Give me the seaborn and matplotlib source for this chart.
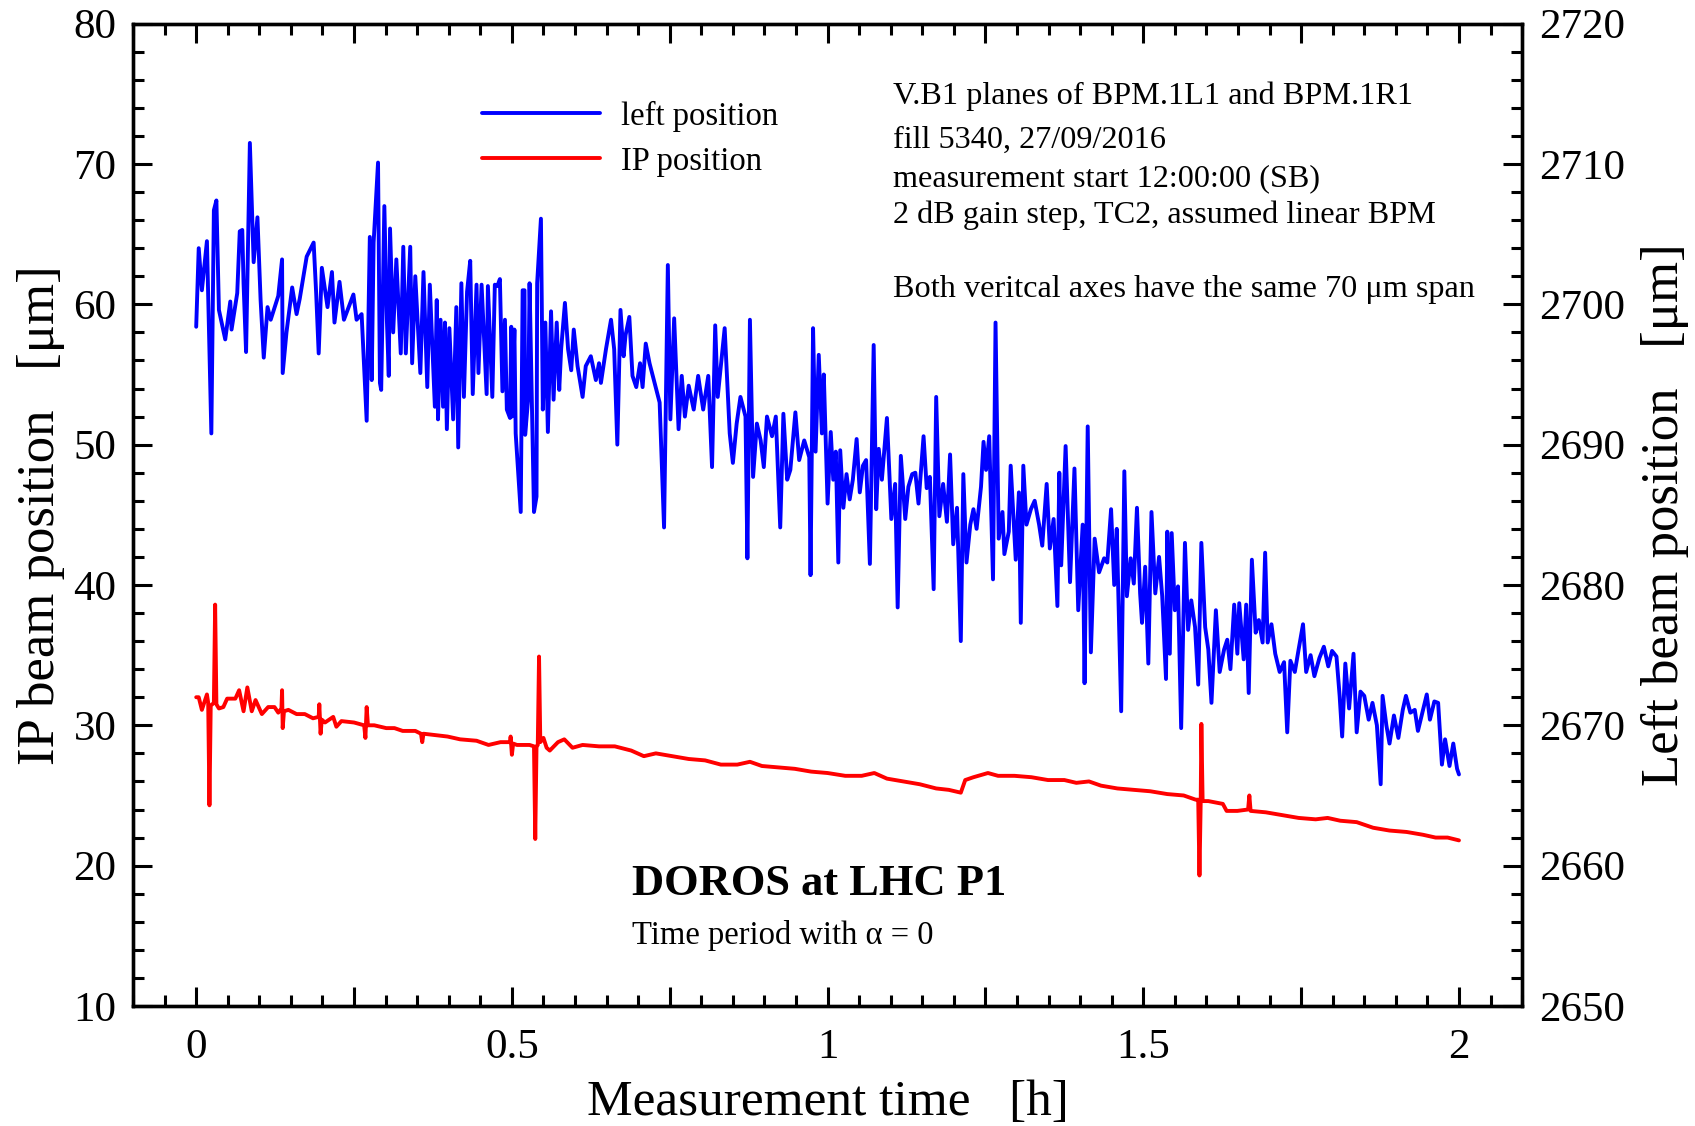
import numpy as np
import seaborn as sns
import matplotlib.pyplot as plt
from matplotlib.ticker import MultipleLocator, FuncFormatter

# left BPM position (right axis, um) vs time [h]
blue_time = [
    0.000, 0.004, 0.009, 0.017, 0.024, 0.028, 0.032, 0.036, 0.046, 0.054, 0.056, 0.065, 0.069, 0.073,
    0.075, 0.079, 0.085, 0.091, 0.097, 0.102, 0.107, 0.113, 0.118, 0.130, 0.136, 0.137, 0.143, 0.152,
    0.159, 0.164, 0.175, 0.186, 0.190, 0.194, 0.199, 0.208, 0.215, 0.219, 0.227, 0.234, 0.249, 0.254,
    0.262, 0.269, 0.270, 0.275, 0.278, 0.281, 0.288, 0.291, 0.293, 0.298, 0.302, 0.305, 0.307, 0.312,
    0.317, 0.324, 0.328, 0.332, 0.339, 0.342, 0.347, 0.355, 0.360, 0.366, 0.370, 0.378, 0.381, 0.383,
    0.387, 0.391, 0.394, 0.397, 0.401, 0.407, 0.412, 0.415, 0.420, 0.424, 0.429, 0.434, 0.438, 0.444,
    0.447, 0.452, 0.460, 0.462, 0.469, 0.473, 0.477, 0.481, 0.485, 0.489, 0.492, 0.497, 0.499, 0.500,
    0.504, 0.506, 0.514, 0.517, 0.520, 0.521, 0.526, 0.528, 0.535, 0.539, 0.540, 0.546, 0.549, 0.553,
    0.557, 0.562, 0.566, 0.571, 0.575, 0.578, 0.584, 0.589, 0.594, 0.598, 0.604, 0.612, 0.617, 0.625,
    0.633, 0.638, 0.641, 0.649, 0.657, 0.662, 0.667, 0.672, 0.677, 0.680, 0.686, 0.691, 0.697, 0.703,
    0.707, 0.712, 0.718, 0.726, 0.734, 0.741, 0.747, 0.751, 0.757, 0.764, 0.769, 0.774, 0.780, 0.788,
    0.795, 0.803, 0.811, 0.817, 0.822, 0.826, 0.831, 0.837, 0.845, 0.850, 0.856, 0.862, 0.870, 0.873,
    0.877, 0.882, 0.888, 0.894, 0.899, 0.904, 0.912, 0.918, 0.925, 0.930, 0.936, 0.941, 0.949, 0.955,
    0.963, 0.971, 0.973, 0.977, 0.981, 0.986, 0.991, 0.994, 1.000, 1.005, 1.009, 1.013, 1.017, 1.020,
    1.025, 1.030, 1.035, 1.040, 1.046, 1.051, 1.056, 1.061, 1.067, 1.073, 1.077, 1.081, 1.086, 1.094,
    1.101, 1.107, 1.111, 1.116, 1.123, 1.128, 1.134, 1.139, 1.144, 1.152, 1.157, 1.162, 1.168, 1.172,
    1.177, 1.183, 1.189, 1.194, 1.199, 1.205, 1.211, 1.215, 1.220, 1.226, 1.231, 1.236, 1.243, 1.247,
    1.251, 1.256, 1.262, 1.266, 1.271, 1.277, 1.280, 1.287, 1.290, 1.298, 1.303, 1.306, 1.310, 1.315,
    1.322, 1.328, 1.335, 1.340, 1.347, 1.352, 1.358, 1.364, 1.367, 1.370, 1.377, 1.384, 1.391, 1.397,
    1.404, 1.407, 1.412, 1.417, 1.423, 1.430, 1.438, 1.443, 1.449, 1.454, 1.458, 1.465, 1.470, 1.474,
    1.480, 1.485, 1.490, 1.495, 1.498, 1.503, 1.508, 1.513, 1.519, 1.525, 1.530, 1.536, 1.538, 1.542,
    1.545, 1.550, 1.555, 1.560, 1.566, 1.571, 1.576, 1.582, 1.587, 1.592, 1.598, 1.603, 1.608, 1.615,
    1.621, 1.628, 1.633, 1.638, 1.644, 1.649, 1.652, 1.659, 1.663, 1.667, 1.672, 1.678, 1.683, 1.689,
    1.693, 1.697, 1.703, 1.709, 1.716, 1.723, 1.728, 1.733, 1.740, 1.746, 1.753, 1.758, 1.765, 1.771,
    1.779, 1.786, 1.793, 1.799, 1.806, 1.811, 1.815, 1.820, 1.826, 1.833, 1.838, 1.844, 1.850, 1.857,
    1.863, 1.870, 1.876, 1.879, 1.885, 1.890, 1.897, 1.904, 1.911, 1.916, 1.923, 1.930, 1.935, 1.942,
    1.949, 1.954, 1.961, 1.967, 1.973, 1.978, 1.985, 1.991, 1.997, 2.000,
]
left_pos = [
    2698.4, 2704.0, 2701.0, 2704.5, 2690.8, 2706.7, 2707.4, 2699.6, 2697.5, 2700.2, 2698.2, 2700.8, 2705.2, 2705.3,
    2701.5, 2696.6, 2711.5, 2703.0, 2706.2, 2700.3, 2696.2, 2699.8, 2698.9, 2700.6, 2703.2, 2695.1, 2698.0, 2701.2,
    2699.3, 2700.4, 2703.4, 2704.4, 2700.8, 2696.5, 2702.6, 2699.8, 2702.3, 2698.7, 2701.6, 2698.9, 2700.7, 2698.9,
    2699.3, 2692.7, 2691.7, 2704.8, 2694.6, 2704.4, 2710.1, 2694.4, 2693.9, 2707.0, 2698.9, 2694.9, 2705.4, 2698.0,
    2703.2, 2696.5, 2704.1, 2696.5, 2704.1, 2695.8, 2702.0, 2695.1, 2702.3, 2694.1, 2701.4, 2692.7, 2700.3, 2691.8,
    2698.9, 2692.7, 2698.7, 2691.1, 2698.3, 2691.8, 2699.8, 2689.8, 2701.5, 2693.4, 2700.9, 2703.1, 2693.6, 2701.4,
    2695.1, 2701.4, 2693.6, 2701.3, 2693.4, 2701.4, 2701.3, 2701.8, 2693.8, 2698.9, 2692.5, 2691.9, 2698.4, 2692.0,
    2698.2, 2690.8, 2685.2, 2701.0, 2701.0, 2690.7, 2693.4, 2701.5, 2685.2, 2686.3, 2701.5, 2706.1, 2692.5, 2698.7,
    2690.9, 2699.5, 2693.2, 2698.7, 2693.9, 2696.8, 2700.1, 2696.8, 2695.3, 2698.2, 2695.6, 2693.4, 2695.6, 2696.3,
    2694.6, 2695.8, 2694.4, 2696.8, 2698.9, 2696.8, 2690.0, 2699.6, 2696.3, 2697.8, 2699.1, 2694.9, 2694.1, 2695.8,
    2694.1, 2697.2, 2695.8, 2694.4, 2693.0, 2684.1, 2702.8, 2691.8, 2699.0, 2691.1, 2694.9, 2692.0, 2694.2, 2692.5,
    2694.9, 2692.5, 2694.9, 2688.4, 2698.5, 2693.4, 2695.6, 2698.3, 2690.8, 2688.7, 2691.5, 2693.4, 2692.0, 2681.9,
    2698.9, 2687.7, 2691.5, 2690.3, 2688.4, 2692.0, 2690.6, 2692.0, 2684.1, 2692.2, 2687.5, 2688.2, 2692.3, 2688.9,
    2690.3, 2689.1, 2680.7, 2698.3, 2689.5, 2696.4, 2690.8, 2695.0, 2685.8, 2690.9, 2687.5, 2689.5, 2681.6, 2689.6,
    2685.5, 2687.9, 2686.1, 2687.5, 2690.4, 2686.6, 2688.5, 2688.9, 2681.5, 2697.1, 2685.4, 2689.7, 2687.5, 2691.9,
    2684.7, 2687.2, 2678.4, 2689.2, 2684.7, 2687.0, 2687.9, 2688.0, 2685.8, 2690.6, 2686.9, 2687.7, 2679.7, 2693.4,
    2684.9, 2687.2, 2684.5, 2689.3, 2682.9, 2685.5, 2676.0, 2687.9, 2681.6, 2684.3, 2685.4, 2684.0, 2687.0, 2690.2,
    2688.2, 2690.6, 2680.4, 2698.7, 2683.3, 2685.2, 2682.2, 2683.8, 2688.5, 2681.8, 2686.6, 2677.3, 2688.5, 2684.3,
    2685.4, 2686.0, 2684.3, 2682.8, 2687.2, 2682.6, 2684.7, 2678.5, 2688.0, 2681.4, 2689.9, 2680.2, 2688.3, 2678.2,
    2684.3, 2673.0, 2691.3, 2675.2, 2683.3, 2680.9, 2681.9, 2681.6, 2685.4, 2680.0, 2684.0, 2671.0, 2688.1, 2679.2,
    2681.9, 2680.1, 2685.5, 2679.4, 2677.3, 2681.3, 2674.4, 2685.2, 2679.4, 2682.0, 2679.2, 2673.3, 2683.8, 2675.1,
    2683.7, 2678.2, 2679.9, 2669.8, 2683.0, 2676.8, 2678.9, 2677.0, 2672.9, 2683.0, 2677.0, 2675.4, 2671.6, 2678.2,
    2673.8, 2675.4, 2676.1, 2674.0, 2678.6, 2675.1, 2678.7, 2674.7, 2678.6, 2672.3, 2681.8, 2676.6, 2677.5, 2675.9,
    2682.3, 2675.9, 2677.2, 2675.1, 2673.8, 2674.5, 2669.5, 2674.6, 2673.8, 2675.4, 2677.2, 2673.8, 2675.0, 2673.5,
    2674.8, 2675.6, 2674.2, 2675.3, 2674.9, 2672.1, 2669.2, 2674.4, 2671.2, 2675.1, 2669.5, 2672.4, 2672.1, 2670.4,
    2671.6, 2670.0, 2665.8, 2672.1, 2670.0, 2668.7, 2670.7, 2669.1, 2671.1, 2672.1, 2670.9, 2671.1, 2669.6, 2670.9,
    2672.2, 2670.4, 2671.7, 2671.6, 2667.2, 2669.0, 2667.1, 2668.7, 2666.9, 2666.5,
]

# IP position (left axis, um) vs time [h]
red_time = [
    0.000, 0.004, 0.009, 0.017, 0.019, 0.021, 0.023, 0.028, 0.030, 0.032, 0.036, 0.043, 0.049, 0.062,
    0.068, 0.075, 0.081, 0.088, 0.094, 0.104, 0.114, 0.124, 0.130, 0.135, 0.136, 0.137, 0.139, 0.146,
    0.159, 0.172, 0.185, 0.194, 0.195, 0.197, 0.199, 0.204, 0.217, 0.222, 0.230, 0.250, 0.266, 0.268,
    0.270, 0.272, 0.282, 0.301, 0.314, 0.327, 0.347, 0.356, 0.358, 0.360, 0.379, 0.398, 0.418, 0.444,
    0.463, 0.482, 0.497, 0.498, 0.500, 0.502, 0.508, 0.528, 0.535, 0.537, 0.539, 0.541, 0.543, 0.545,
    0.550, 0.555, 0.560, 0.573, 0.583, 0.596, 0.612, 0.638, 0.663, 0.689, 0.709, 0.728, 0.754, 0.780,
    0.806, 0.831, 0.857, 0.877, 0.896, 0.922, 0.948, 0.974, 1.000, 1.028, 1.054, 1.074, 1.094, 1.120,
    1.146, 1.172, 1.192, 1.211, 1.218, 1.231, 1.254, 1.270, 1.296, 1.323, 1.349, 1.375, 1.394, 1.414,
    1.433, 1.459, 1.485, 1.511, 1.538, 1.564, 1.583, 1.587, 1.589, 1.591, 1.592, 1.594, 1.603, 1.626,
    1.632, 1.649, 1.666, 1.668, 1.670, 1.694, 1.720, 1.746, 1.773, 1.792, 1.812, 1.838, 1.864, 1.890,
    1.917, 1.943, 1.963, 1.982, 2.000,
]
ip_pos = [
    32.0, 32.0, 31.1, 32.2, 31.6, 24.3, 31.4, 31.6, 38.6, 31.5, 31.2, 31.3, 31.9, 31.9,
    32.5, 31.0, 32.7, 31.0, 31.8, 30.8, 31.3, 31.3, 30.9, 31.2, 32.5, 29.8, 31.0, 31.1,
    30.8, 30.8, 30.5, 30.6, 31.5, 29.4, 30.4, 30.2, 30.6, 29.9, 30.3, 30.2, 30.0, 29.1,
    31.3, 30.0, 30.0, 29.8, 29.8, 29.6, 29.6, 29.4, 28.8, 29.4, 29.3, 29.2, 29.0, 28.9,
    28.6, 28.8, 28.8, 29.2, 27.9, 28.7, 28.6, 28.6, 28.5, 21.9, 28.5, 28.6, 34.9, 28.8,
    29.1, 28.4, 28.2, 28.8, 29.0, 28.4, 28.6, 28.5, 28.5, 28.2, 27.8, 28.0, 27.8, 27.6,
    27.5, 27.2, 27.2, 27.4, 27.1, 27.0, 26.9, 26.7, 26.6, 26.4, 26.4, 26.6, 26.2, 26.0,
    25.8, 25.5, 25.4, 25.2, 26.1, 26.3, 26.6, 26.4, 26.4, 26.3, 26.1, 26.1, 25.9, 26.0,
    25.7, 25.5, 25.4, 25.3, 25.1, 25.0, 24.7, 24.7, 19.3, 24.7, 30.1, 24.6, 24.6, 24.4,
    23.9, 23.9, 24.0, 25.0, 23.9, 23.8, 23.6, 23.4, 23.3, 23.4, 23.2, 23.1, 22.7, 22.5,
    22.4, 22.2, 22.0, 22.0, 21.8,
]

sns.set_style("ticks")
plt.rcParams['font.family'] = ['Liberation Serif', 'DejaVu Serif']
plt.rcParams.update({
    'text.color': 'black', 'axes.labelcolor': 'black', 'axes.edgecolor': 'black',
    'xtick.color': 'black', 'ytick.color': 'black',
})

fig, ax = plt.subplots(figsize=(16.95, 11.26), dpi=100)
fig.subplots_adjust(left=0.0785, right=0.898, top=0.979, bottom=0.1066)
ax2 = ax.twinx()

sns.lineplot(x=red_time, y=ip_pos, ax=ax, color="#ff0000", linewidth=2.8,
             estimator=None, sort=False, label="IP position")
sns.lineplot(x=blue_time, y=left_pos, ax=ax2, color="#0000ff", linewidth=2.8,
             estimator=None, sort=False, label="left position")
for a in (ax, ax2):
    if a.get_legend() is not None:
        a.get_legend().remove()

ax.set_xlim(-0.1, 2.1)
ax.set_ylim(10, 80)
ax2.set_ylim(2650, 2720)

# ticks
ax.xaxis.set_major_locator(MultipleLocator(0.25))
ax.xaxis.set_minor_locator(MultipleLocator(0.05))
ax.xaxis.set_major_formatter(FuncFormatter(
    lambda v, p: f"{v:g}" if abs(v * 2 - round(v * 2)) < 1e-6 else ""))
ax.yaxis.set_major_locator(MultipleLocator(10))
ax.yaxis.set_minor_locator(MultipleLocator(2))
ax2.yaxis.set_major_locator(MultipleLocator(10))
ax2.yaxis.set_minor_locator(MultipleLocator(2))

ax.tick_params(which='both', direction='in', top=True, right=False, width=2.2,
               labelsize=31, colors='black')
ax.tick_params(axis='x', which='both', pad=16)
ax.tick_params(axis='y', which='both', pad=12)
ax.tick_params(which='major', length=14)
ax.tick_params(which='minor', length=8)
ax2.tick_params(which='both', direction='in', width=2.2, labelsize=31, pad=12,
                colors='black')
ax2.tick_params(which='major', length=14)
ax2.tick_params(which='minor', length=8)

for a in (ax, ax2):
    for s in a.spines.values():
        s.set_linewidth(2.4)
        s.set_color('black')
        s.set_visible(True)

ax.set_xlabel("Measurement time   [h]", fontsize=37, labelpad=9)
ax.set_ylabel("IP beam position   [μm]", fontsize=38, labelpad=6)
ax2.set_ylabel("Left beam position   [μm]", fontsize=38, labelpad=12)

# legend
h2, l2 = ax2.get_legend_handles_labels()
h1, l1 = ax.get_legend_handles_labels()
ax2.legend(h2 + h1, l2 + l1, loc='upper left', bbox_to_anchor=(0.242, 0.935),
           frameon=False, fontsize=23.5, handlelength=3.6, handletextpad=0.65,
           labelspacing=0.45, borderaxespad=0)

# annotations
info = [
    ("V.B1 planes of BPM.1L1 and BPM.1R1", 0.9145),
    ("fill 5340, 27/09/2016", 0.8755),
    ("measurement start 12:00:00 (SB)", 0.8410),
    ("2 dB gain step, TC2, assumed linear BPM", 0.8090),
    ("Both veritcal axes have the same 70 μm span", 0.7425),
]
for txt, y in info:
    fig.text(0.527, y, txt, fontsize=23.2, va='center', ha='left')

fig.text(0.373, 0.2149, "DOROS at LHC P1", fontsize=32, fontweight='bold',
         va='center', ha='left')
fig.text(0.373, 0.1696, "Time period with α = 0", fontsize=23.5, va='center', ha='left')

plt.savefig("out.png", dpi=100)
